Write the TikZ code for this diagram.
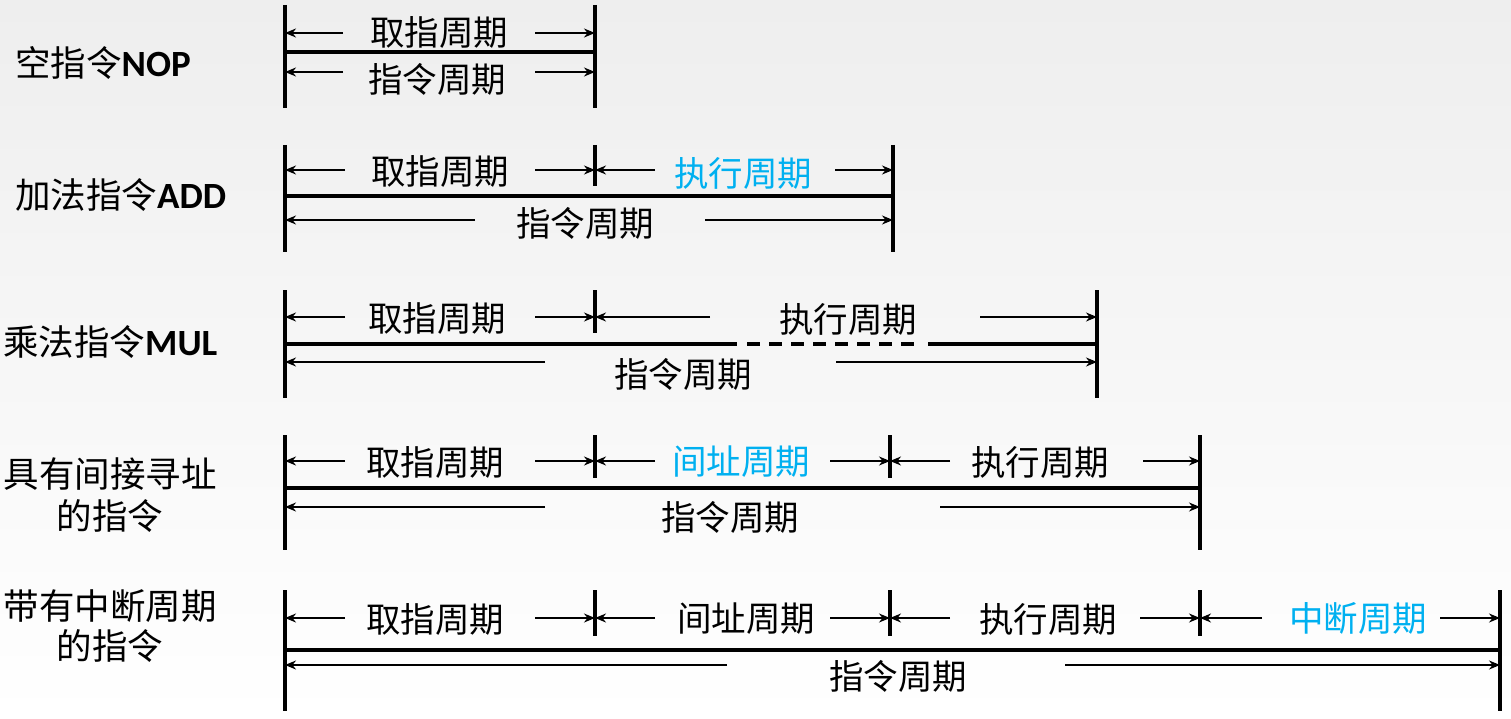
\documentclass[tikz,border=0pt]{standalone}
\usepackage{fontspec}
\newfontfamily\cjk{Noto Sans CJK SC}
\newfontfamily\lat{Carlito}
\usetikzlibrary{arrows.meta}
\definecolor{cycblue}{RGB}{0,176,240}
\definecolor{bgtop}{RGB}{238,238,238}
\tikzset{
  barline/.style={line width=4pt},
  mainline/.style={line width=4.4pt},
  dimarrow/.style={line width=1.3pt,-{Stealth[length=11pt,width=9pt,inset=3.5pt]}},
  cyc/.style={font=\cjk\fontsize{34.5}{36}\selectfont,inner sep=0pt,text=black},
  cycb/.style={cyc,text=cycblue},
  lbl/.style={font=\cjk\fontsize{35.5}{40}\selectfont,inner sep=0pt,align=center},
}
\newcommand{\lt}[1]{{\lat\bfseries\fontsize{37}{40}\selectfont #1}}
\begin{document}
\begin{tikzpicture}[x=1pt,y=-1pt]
\shade[top color=bgtop,bottom color=white] (0,0) rectangle (1511,719);
\useasboundingbox (0,0) rectangle (1511,719);

% ---------- labels ----------
\node[lbl,anchor=west] (l1) at (15,63) {空指令\lt{NOP}};
\node[lbl,anchor=west] (l2) at (15,195) {加法指令\lt{ADD}};
\node[lbl,anchor=west] (l3) at (3,342) {乘法指令\lt{MUL}};
\node[lbl] (l4) at (110,495) {具有间接寻址\\[2pt]的指令};
\node[lbl] (l5) at (110,626) {带有中断周期\\的指令};

% ---------- row 1 ----------
\coordinate (a1t) at (285,5);   \coordinate (a1b) at (285,108);
\coordinate (a2t) at (595,5);   \coordinate (a2b) at (595,108);
\draw[barline] (a1t) -- (a1b);
\draw[barline] (a2t) -- (a2b);
\coordinate (a1m) at (285,52);  \coordinate (a2m) at (595,52);
\draw[mainline] (a1m) -- (a2m);
\node[cyc] (a_f) at (439,32) {取指周期};
\coordinate (a_u0) at (285,33); \coordinate (a_u1) at (343,33);
\coordinate (a_u2) at (535,33); \coordinate (a_u3) at (595,33);
\draw[dimarrow] (a_u1) -- (a_u0);
\draw[dimarrow] (a_u2) -- (a_u3);
\node[cyc] (a_i) at (437,79) {指令周期};
\coordinate (a_l0) at (285,72); \coordinate (a_l1) at (343,72);
\coordinate (a_l2) at (535,72); \coordinate (a_l3) at (595,72);
\draw[dimarrow] (a_l1) -- (a_l0);
\draw[dimarrow] (a_l2) -- (a_l3);

% ---------- row 2 ----------
\coordinate (b1t) at (285,145); \coordinate (b1b) at (285,252);
\coordinate (b2t) at (595,145); \coordinate (b2b) at (595,186);
\coordinate (b3t) at (893,145); \coordinate (b3b) at (893,252);
\draw[barline] (b1t) -- (b1b);
\draw[barline] (b2t) -- (b2b);
\draw[barline] (b3t) -- (b3b);
\coordinate (b1m) at (285,196); \coordinate (b3m) at (893,196);
\draw[mainline] (b1m) -- (b3m);
\node[cyc] (b_f) at (440,171) {取指周期};
\node[cycb] (b_e) at (743,173) {执行周期};
\coordinate (b_u0) at (285,170); \coordinate (b_u1) at (345,170);
\coordinate (b_u2) at (535,170); \coordinate (b_u3) at (595,170);
\coordinate (b_u4) at (655,170); \coordinate (b_u5) at (835,170);
\coordinate (b_u6) at (893,170);
\draw[dimarrow] (b_u1) -- (b_u0);
\draw[dimarrow] (b_u2) -- (b_u3);
\draw[dimarrow] (b_u4) -- (b_u3);
\draw[dimarrow] (b_u5) -- (b_u6);
\node[cyc] (b_i) at (585,223) {指令周期};
\coordinate (b_l0) at (285,220); \coordinate (b_l1) at (475,220);
\coordinate (b_l2) at (705,220); \coordinate (b_l3) at (893,220);
\draw[dimarrow] (b_l1) -- (b_l0);
\draw[dimarrow] (b_l2) -- (b_l3);

% ---------- row 3 ----------
\coordinate (c1t) at (285,290); \coordinate (c1b) at (285,398);
\coordinate (c2t) at (595,290); \coordinate (c2b) at (595,333);
\coordinate (c3t) at (1097,290); \coordinate (c3b) at (1097,398);
\draw[barline] (c1t) -- (c1b);
\draw[barline] (c2t) -- (c2b);
\draw[barline] (c3t) -- (c3b);
\coordinate (c1m) at (285,344); \coordinate (cd0) at (737,344);
\coordinate (cd1) at (747,344); \coordinate (cd2) at (920,344);
\coordinate (cd3) at (928,344); \coordinate (c3m) at (1097,344);
\draw[mainline] (c1m) -- (cd0);
\draw[mainline,dash pattern=on 13pt off 9pt] (cd1) -- (cd2);
\draw[mainline] (cd3) -- (c3m);
\node[cyc] (c_f) at (437,318) {取指周期};
\node[cyc] (c_e) at (848,319) {执行周期};
\coordinate (c_u0) at (285,317); \coordinate (c_u1) at (345,317);
\coordinate (c_u2) at (535,317); \coordinate (c_u3) at (595,317);
\coordinate (c_u4) at (710,317); \coordinate (c_u5) at (980,317);
\coordinate (c_u6) at (1097,317);
\draw[dimarrow] (c_u1) -- (c_u0);
\draw[dimarrow] (c_u2) -- (c_u3);
\draw[dimarrow] (c_u4) -- (c_u3);
\draw[dimarrow] (c_u5) -- (c_u6);
\node[cyc] (c_i) at (683,374) {指令周期};
\coordinate (c_l0) at (285,362); \coordinate (c_l1) at (545,362);
\coordinate (c_l2) at (836,362); \coordinate (c_l3) at (1097,362);
\draw[dimarrow] (c_l1) -- (c_l0);
\draw[dimarrow] (c_l2) -- (c_l3);

% ---------- row 4 ----------
\coordinate (d1t) at (285,435); \coordinate (d1b) at (285,550);
\coordinate (d2t) at (595,435); \coordinate (d2b) at (595,478);
\coordinate (d3t) at (890,435); \coordinate (d3b) at (890,478);
\coordinate (d4t) at (1200,435); \coordinate (d4b) at (1200,550);
\draw[barline] (d1t) -- (d1b);
\draw[barline] (d2t) -- (d2b);
\draw[barline] (d3t) -- (d3b);
\draw[barline] (d4t) -- (d4b);
\coordinate (d1m) at (285,488); \coordinate (d4m) at (1200,488);
\draw[mainline] (d1m) -- (d4m);
\node[cyc] (d_f) at (435,462) {取指周期};
\node[cycb] (d_a) at (741,462) {间址周期};
\node[cyc] (d_e) at (1040,462) {执行周期};
\coordinate (d_u0) at (285,461); \coordinate (d_u1) at (345,461);
\coordinate (d_u2) at (535,461); \coordinate (d_u3) at (595,461);
\coordinate (d_u4) at (655,461); \coordinate (d_u5) at (830,461);
\coordinate (d_u6) at (890,461); \coordinate (d_u7) at (950,461);
\coordinate (d_u8) at (1143,461); \coordinate (d_u9) at (1200,461);
\draw[dimarrow] (d_u1) -- (d_u0);
\draw[dimarrow] (d_u2) -- (d_u3);
\draw[dimarrow] (d_u4) -- (d_u3);
\draw[dimarrow] (d_u5) -- (d_u6);
\draw[dimarrow] (d_u7) -- (d_u6);
\draw[dimarrow] (d_u8) -- (d_u9);
\node[cyc] (d_i) at (730,517) {指令周期};
\coordinate (d_l0) at (285,507); \coordinate (d_l1) at (545,507);
\coordinate (d_l2) at (940,507); \coordinate (d_l3) at (1200,507);
\draw[dimarrow] (d_l1) -- (d_l0);
\draw[dimarrow] (d_l2) -- (d_l3);

% ---------- row 5 ----------
\coordinate (e1t) at (285,590); \coordinate (e1b) at (285,711);
\coordinate (e2t) at (595,590); \coordinate (e2b) at (595,636);
\coordinate (e3t) at (890,590); \coordinate (e3b) at (890,636);
\coordinate (e4t) at (1200,590); \coordinate (e4b) at (1200,636);
\coordinate (e5t) at (1500,590); \coordinate (e5b) at (1500,711);
\draw[barline] (e1t) -- (e1b);
\draw[barline] (e2t) -- (e2b);
\draw[barline] (e3t) -- (e3b);
\draw[barline] (e4t) -- (e4b);
\draw[barline] (e5t) -- (e5b);
\coordinate (e1m) at (285,650); \coordinate (e5m) at (1500,650);
\draw[mainline] (e1m) -- (e5m);
\node[cyc] (e_f) at (435,619) {取指周期};
\node[cyc] (e_a) at (746,619) {间址周期};
\node[cyc] (e_e) at (1048,619) {执行周期};
\node[cycb] (e_n) at (1358,618) {中断周期};
\coordinate (e_u0) at (285,618); \coordinate (e_u1) at (345,618);
\coordinate (e_u2) at (535,618); \coordinate (e_u3) at (595,618);
\coordinate (e_u4) at (655,618); \coordinate (e_u5) at (830,618);
\coordinate (e_u6) at (890,618); \coordinate (e_u7) at (950,618);
\coordinate (e_u8) at (1140,618); \coordinate (e_u9) at (1200,618);
\coordinate (e_u10) at (1262,618); \coordinate (e_u11) at (1440,618);
\coordinate (e_u12) at (1500,618);
\draw[dimarrow] (e_u1) -- (e_u0);
\draw[dimarrow] (e_u2) -- (e_u3);
\draw[dimarrow] (e_u4) -- (e_u3);
\draw[dimarrow] (e_u5) -- (e_u6);
\draw[dimarrow] (e_u7) -- (e_u6);
\draw[dimarrow] (e_u8) -- (e_u9);
\draw[dimarrow] (e_u10) -- (e_u9);
\draw[dimarrow] (e_u11) -- (e_u12);
\node[cyc] (e_i) at (898,676) {指令周期};
\coordinate (e_l0) at (285,665); \coordinate (e_l1) at (727,665);
\coordinate (e_l2) at (1065,665); \coordinate (e_l3) at (1500,665);
\draw[dimarrow] (e_l1) -- (e_l0);
\draw[dimarrow] (e_l2) -- (e_l3);
\end{tikzpicture}
\end{document}
